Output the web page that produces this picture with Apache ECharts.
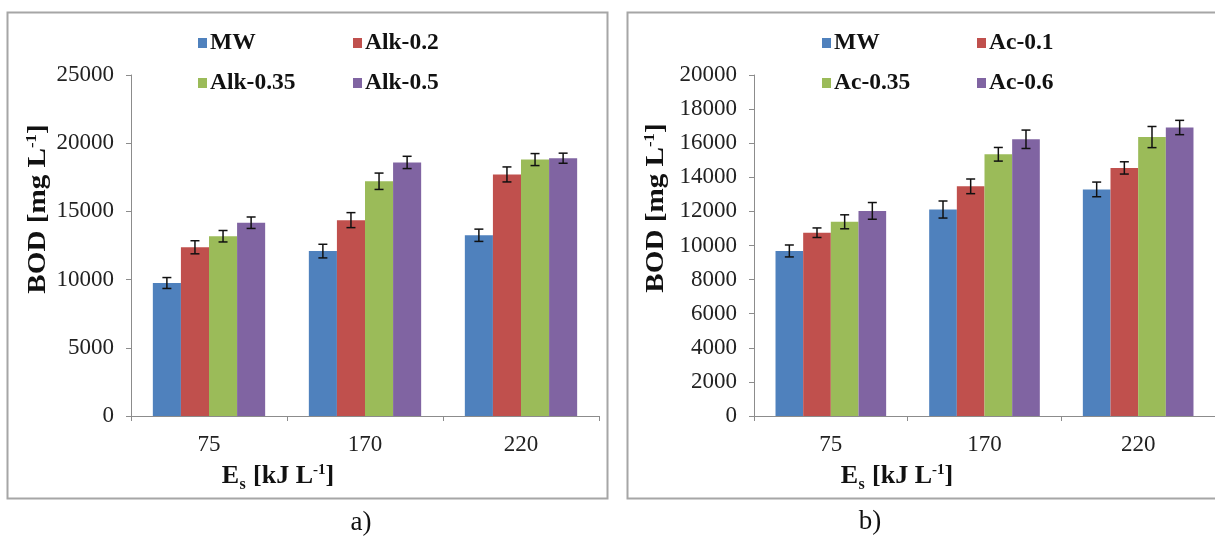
<!DOCTYPE html>
<html>
<head>
<meta charset="utf-8">
<script src="https://cdn.jsdelivr.net/npm/echarts@6/dist/echarts.min.js"></script>
<style>
  html, body { margin: 0; padding: 0; background: #fff; }
  #chart { width: 1215px; height: 537px; }
</style>
</head>
<body>
<div id="chart"></div>
<script>
// Specific energy levels (kJ/L) shared by both panels
const categories = ['75', '170', '220'];

// Panel a) alkaline pre-treatment, BOD in mg/L with standard deviations
const alkNames = ['MW', 'Alk-0.2', 'Alk-0.35', 'Alk-0.5'];
const alkMW     = [9750, 12090, 13250];
const alk02     = [12370, 14360, 17710];
const alk035    = [13180, 17210, 18800];
const alk05     = [14170, 18590, 18900];
const alkMWErr  = [400, 500, 450];
const alk02Err  = [480, 550, 550];
const alk035Err = [420, 600, 440];
const alk05Err  = [420, 450, 370];

// Panel b) acidic pre-treatment, BOD in mg/L with standard deviations
const acNames = ['MW', 'Ac-0.1', 'Ac-0.35', 'Ac-0.6'];
const acMW     = [9680, 12110, 13290];
const ac01     = [10750, 13470, 14550];
const ac035    = [11390, 15350, 16360];
const ac06     = [12030, 16230, 16920];
const acMWErr  = [350, 500, 430];
const ac01Err  = [280, 430, 360];
const ac035Err = [410, 400, 620];
const ac06Err  = [490, 540, 420];

// Y axis ticks
const alkTicks = { max: 25000, interval: 5000 };
const acTicks  = { max: 20000, interval: 2000 };

const colors = ['#4F81BD', '#C0504D', '#9BBB59', '#8064A2'];
const SERIF = '"Liberation Serif", "Times New Roman", serif';
const GAP = 0.28;

function errorBarRenderer(pos, count) {
  return function (params, api) {
    const cat = api.value(0);
    const top = api.coord([cat, api.value(1)]);
    const bot = api.coord([cat, api.value(2)]);
    const band = api.size([1, 0])[0];
    const barW = band * (1 - GAP) / count;
    const x = top[0] + (pos - (count - 1) / 2) * barW;
    const half = 4.5;
    const style = { stroke: '#111', lineWidth: 1.5 };
    return {
      type: 'group',
      children: [
        { type: 'line', shape: { x1: x, y1: top[1], x2: x, y2: bot[1] }, style },
        { type: 'line', shape: { x1: x - half, y1: top[1], x2: x + half, y2: top[1] }, style },
        { type: 'line', shape: { x1: x - half, y1: bot[1], x2: x + half, y2: bot[1] }, style }
      ]
    };
  };
}

function panelSeries(names, values, errors, axisIdx) {
  const out = [];
  names.forEach((name, i) => {
    out.push({
      type: 'bar',
      name: name,
      xAxisIndex: axisIdx,
      yAxisIndex: axisIdx,
      data: values[i],
      barGap: '0%',
      barCategoryGap: (GAP * 100) + '%',
      itemStyle: { color: colors[i] },
      emphasis: { disabled: true }
    });
  });
  names.forEach((name, i) => {
    out.push({
      type: 'custom',
      name: name,
      xAxisIndex: axisIdx,
      yAxisIndex: axisIdx,
      z: 5,
      renderItem: errorBarRenderer(i, names.length),
      encode: { x: 0, y: [1, 2] },
      data: values[i].map((v, k) => [k, v + errors[i][k], v - errors[i][k]]),
      silent: true
    });
  });
  return out;
}

const axisLineStyle = { color: '#8c8c8c', width: 1 };

function xAxisFor(gridIndex) {
  return {
    type: 'category',
    gridIndex: gridIndex,
    data: categories,
    boundaryGap: true,
    axisLine: { show: true, lineStyle: axisLineStyle },
    axisTick: { show: true, length: 5, lineStyle: axisLineStyle },
    axisLabel: { color: '#222', fontFamily: SERIF, fontSize: 23, margin: 17 },
    splitLine: { show: false }
  };
}

function yAxisFor(gridIndex, ticks) {
  return {
    type: 'value',
    gridIndex: gridIndex,
    min: 0,
    max: ticks.max,
    interval: ticks.interval,
    axisLine: { show: true, lineStyle: axisLineStyle },
    axisTick: { show: true, length: 5, lineStyle: axisLineStyle },
    axisLabel: {
      color: '#222', fontFamily: SERIF, fontSize: 23, margin: 17,
      formatter: (v) => String(v)
    },
    splitLine: { show: false }
  };
}

function legendItem(name, left, top) {
  return {
    data: [name],
    left: left,
    top: top,
    orient: 'horizontal',
    icon: 'rect',
    itemWidth: 9,
    itemHeight: 10,
    itemGap: 0,
    padding: 0,
    selectedMode: false,
    textStyle: { fontFamily: SERIF, fontWeight: 'bold', fontSize: 23.5, color: '#111', padding: [0, 0, 0, -2] }
  };
}

const titleRich = {
  b: { fontFamily: SERIF, fontWeight: 'bold', fontSize: 26, fill: '#111', verticalAlign: 'middle' },
  sup: { fontFamily: SERIF, fontWeight: 'bold', fontSize: 15, fill: '#111', verticalAlign: 'top', padding: [0, 0, 11, 0] }
};

function yTitle(x, y) {
  return {
    type: 'text',
    x: x, y: y,
    rotation: Math.PI / 2,
    scaleX: 1.12,
    style: {
      text: '{b|BOD [mg L}{sup|-1}{b|]}',
      rich: titleRich,
      align: 'center',
      verticalAlign: 'middle'
    }
  };
}

// Axis title "E_s [kJ L^-1]": the subscript sits in its own text element
function xTitle(x, y) {
  return {
    type: 'group',
    x: x, y: y,
    children: [
      {
        type: 'text',
        x: 0, y: 0,
        style: {
          text: '{b|E}{gap| }{b|[kJ L}{sup|-1}{b|]}',
          rich: Object.assign({}, titleRich, { gap: { fontSize: 26, width: 14 } }),
          align: 'center',
          verticalAlign: 'middle'
        }
      },
      {
        type: 'text',
        x: -38.5, y: 9,
        style: {
          text: 's',
          fontFamily: SERIF, fontWeight: 'bold', fontSize: 16, fill: '#111',
          align: 'left',
          verticalAlign: 'middle'
        }
      }
    ]
  };
}

function panelLabel(text, x, y) {
  return {
    type: 'text',
    x: x, y: y,
    style: {
      text: text,
      fontFamily: SERIF,
      fontSize: 27,
      fill: '#111',
      align: 'center',
      verticalAlign: 'middle'
    }
  };
}

const chart = echarts.init(document.getElementById('chart'), null, { renderer: 'canvas' });

chart.setOption({
  backgroundColor: '#ffffff',
  animation: false,
  grid: [
    { left: 131, top: 75, width: 468, height: 341 },
    { left: 754, top: 75, width: 466, height: 341 }
  ],
  xAxis: [xAxisFor(0), xAxisFor(1)],
  yAxis: [yAxisFor(0, alkTicks), yAxisFor(1, acTicks)],
  legend: [
    legendItem(alkNames[0], 198, 31),
    legendItem(alkNames[1], 353, 31),
    legendItem(alkNames[2], 198, 71),
    legendItem(alkNames[3], 353, 71),
    legendItem(acNames[1], 977, 31),
    legendItem(acNames[2], 822, 71),
    legendItem(acNames[3], 977, 71),
    legendItem(acNames[0], 822, 31)
  ],
  graphic: [
    { type: 'rect', shape: { x: 7.5, y: 12.5, width: 600, height: 486 }, style: { fill: 'none', stroke: '#a6a6a6', lineWidth: 2 }, silent: true },
    { type: 'rect', shape: { x: 627.5, y: 12.5, width: 620, height: 486 }, style: { fill: 'none', stroke: '#a6a6a6', lineWidth: 2 }, silent: true },
    yTitle(38, 209),
    yTitle(656, 208),
    xTitle(278, 476),
    xTitle(897, 476),
    panelLabel('a)', 361, 523),
    panelLabel('b)', 870, 522)
  ],
  series: [].concat(
    panelSeries(alkNames, [alkMW, alk02, alk035, alk05], [alkMWErr, alk02Err, alk035Err, alk05Err], 0),
    panelSeries(acNames, [acMW, ac01, ac035, ac06], [acMWErr, ac01Err, ac035Err, ac06Err], 1)
  )
});
</script>
</body>
</html>
